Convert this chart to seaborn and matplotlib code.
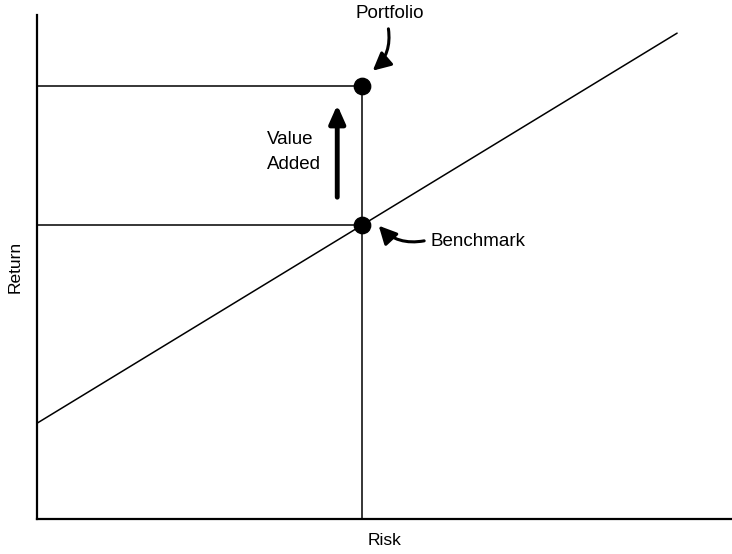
import numpy as np
import pandas as pd
import matplotlib
matplotlib.use("Agg")
import matplotlib.pyplot as plt
import seaborn as sns

# --- DATA (conceptual units, axes span 0..10) ---
line_risk = [0.0, 9.21]
line_return = [1.9, 9.64]
point_names = ["Benchmark", "Portfolio"]
point_risk = [4.68, 4.68]
point_return = [5.83, 8.59]

sns.set_theme(style="white")
plt.rcParams['font.family'] = ['Liberation Sans', 'DejaVu Sans']
plt.rcParams['text.color'] = 'black'
plt.rcParams['axes.labelcolor'] = 'black'

fig = plt.figure(figsize=(7.32, 5.54), dpi=100)
ax = fig.add_axes([37 / 732, 35 / 554, 695 / 732, 504 / 554])

line_df = pd.DataFrame({"Risk": line_risk, "Return": line_return})
pts = pd.DataFrame({"Name": point_names, "Risk": point_risk, "Return": point_return})

# market line
sns.lineplot(data=line_df, x="Risk", y="Return", ax=ax, color="black", linewidth=1.1)

# guide lines from axis to the points
bx, by = point_risk[0], point_return[0]
px, py = point_risk[1], point_return[1]
ax.plot([bx, bx], [0, py], color="black", linewidth=1.1)
ax.plot([0, bx], [by, by], color="black", linewidth=1.1)
ax.plot([0, px], [py, py], color="black", linewidth=1.1)

sns.scatterplot(data=pts, x="Risk", y="Return", ax=ax, color="black", s=140,
                edgecolor="black", zorder=5, legend=False)

ax.set_xlim(0, 10)
ax.set_ylim(0, 10)
ax.set_xticks([])
ax.set_yticks([])
for side in ["top", "right"]:
    ax.spines[side].set_visible(False)
for side in ["left", "bottom"]:
    ax.spines[side].set_color("black")
    ax.spines[side].set_linewidth(1.6)

ax.set_xlabel("Risk", fontsize=12.5, labelpad=10)
ax.set_ylabel("Return", fontsize=12.5, labelpad=10)

# value added arrow
ax.annotate("", xy=(4.32, 8.27), xytext=(4.32, 6.33),
            arrowprops=dict(arrowstyle="-|>,head_length=0.9,head_width=0.4",
                            color="black", lw=3.5))
ax.text(3.31, 7.28, "Value\nAdded", fontsize=13.5, ha="left", va="center",
        linespacing=1.6)

# labels with curved arrows
ax.text(5.07, 10.03, "Portfolio", fontsize=13.5, ha="center", va="center",
        clip_on=False)
ax.annotate("", xy=(4.80, 8.86), xytext=(5.05, 9.78), annotation_clip=False,
            arrowprops=dict(arrowstyle="-|>,head_length=0.9,head_width=0.45",
                            color="black", lw=2.2,
                            connectionstyle="arc3,rad=-0.3"))

ax.text(5.66, 5.51, "Benchmark", fontsize=13.5, ha="left", va="center")
ax.annotate("", xy=(4.89, 5.86), xytext=(5.61, 5.53),
            arrowprops=dict(arrowstyle="-|>,head_length=0.9,head_width=0.45",
                            color="black", lw=2.2,
                            connectionstyle="arc3,rad=-0.3"))

fig.savefig("out.png", dpi=100)
